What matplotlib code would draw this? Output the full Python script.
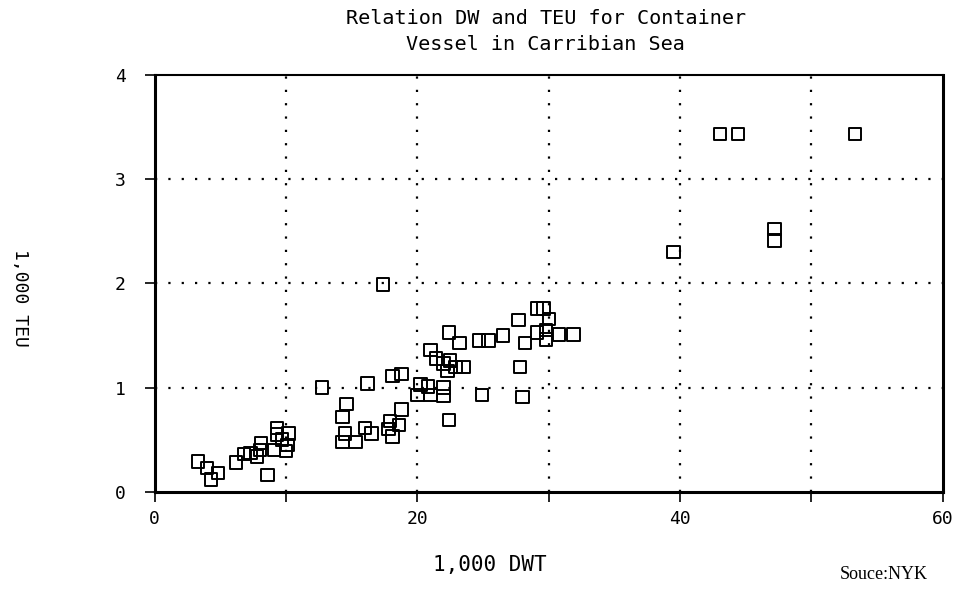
import matplotlib.pyplot as plt
from matplotlib.ticker import MultipleLocator

# dati (1,000 DWT , 1,000 TEU)
dwt = [3.3, 4.0, 4.8, 4.3, 6.2, 6.8, 7.3, 7.8, 8.1, 8.0, 8.6,
       9.3, 10.2, 9.3, 9.1, 10.0, 9.7, 10.1,
       12.75, 16.2, 17.4, 18.1, 18.8, 14.6, 14.3, 14.5, 15.3, 16.0, 16.5, 14.3,
       18.8, 18.6, 17.9, 18.1, 17.8,
       29.1, 29.6, 27.7, 30.0, 29.1, 29.8, 30.8, 31.9, 28.2, 29.8, 26.5,
       24.7, 25.4, 22.4, 23.2, 21.0, 21.4, 22.5, 22.0, 22.9, 23.5, 22.3,
       27.8, 20.25, 20.8, 20.0, 22.0, 22.0, 21.0, 24.9, 28.0, 22.4,
       39.5, 43.05, 44.4, 53.3, 47.2, 47.2]
teu = [0.29, 0.23, 0.18, 0.12, 0.28, 0.36, 0.37, 0.34, 0.47, 0.40, 0.16,
       0.61, 0.56, 0.55, 0.40, 0.39, 0.50, 0.45,
       1.00, 1.04, 1.99, 1.11, 1.13, 0.84, 0.72, 0.56, 0.48, 0.61, 0.56, 0.48,
       0.79, 0.64, 0.68, 0.53, 0.60,
       1.76, 1.76, 1.65, 1.66, 1.53, 1.55, 1.51, 1.51, 1.43, 1.46, 1.50,
       1.45, 1.45, 1.53, 1.43, 1.36, 1.28, 1.26, 1.23, 1.20, 1.20, 1.16,
       1.20, 1.03, 1.01, 0.93, 1.00, 0.92, 0.93, 0.93, 0.91, 0.69,
       2.30, 3.43, 3.43, 3.43, 2.52, 2.41]

x_ticks = [0, 20, 40, 60]
y_ticks = [0, 1, 2, 3, 4]
title_lines = ["Relation DW and TEU for Container", "Vessel in Carribian Sea"]

mono = 'DejaVu Sans Mono'

fig = plt.figure(figsize=(9.61, 5.89), dpi=100)
ax = fig.add_axes([0.161, 0.165, 0.820, 0.708])

ax.scatter(dwt, teu, marker='s', s=80, facecolors='none', edgecolors='black',
           linewidths=1.4, zorder=3)

ax.set_xlim(0, 60)
ax.set_ylim(0, 4)
ax.set_xticks(x_ticks)
ax.set_yticks(y_ticks)
ax.xaxis.set_minor_locator(MultipleLocator(10))
ax.set_xticklabels([str(t) for t in x_ticks], fontfamily=mono, fontsize=13)
ax.set_yticklabels([str(t) for t in y_ticks], fontfamily=mono, fontsize=13)
ax.tick_params(axis='both', which='both', direction='out', length=7, width=1.2, color='black')
ax.tick_params(axis='x', pad=6)
ax.tick_params(axis='y', pad=14)

# griglia punteggiata
for gx in [10, 20, 30, 40, 50]:
    ax.axvline(gx, color='black', linestyle=(0, (1, 5)), linewidth=1.6, zorder=1)
for gy in [1, 2, 3]:
    ax.axhline(gy, color='black', linestyle=(0, (1, 5)), linewidth=1.6, zorder=1)

for side in ['left', 'bottom', 'right']:
    ax.spines[side].set_linewidth(2.2)
ax.spines['top'].set_linewidth(1.5)

fig.text(0.568, 1 - 18 / 589, title_lines[0], ha='center', va='center',
         fontfamily=mono, fontsize=14.5)
fig.text(0.568, 1 - 45 / 589, title_lines[1], ha='center', va='center',
         fontfamily=mono, fontsize=14.5)
fig.text(0.51, 0.04, "1,000 DWT", ha='center', va='center', fontfamily=mono, fontsize=15)
fig.text(0.021, 0.495, "1,000 TEU", ha='center', va='center', rotation=270,
         fontfamily=mono, fontsize=13)
fig.text(0.92, 0.025, "Souce:NYK", ha='center', va='center', fontfamily='Liberation Serif',
         fontsize=13)

fig.savefig('out.png', dpi=100)
